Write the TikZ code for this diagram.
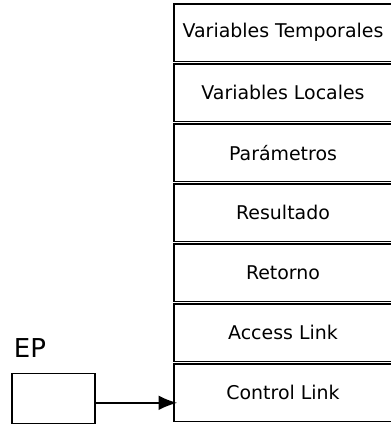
\documentclass[tikz,border=0pt]{standalone}
\usepackage{fontspec}
\setmainfont{DejaVu Sans}
\usetikzlibrary{arrows.meta,positioning}
\begin{document}
\begin{tikzpicture}[x=0.75pt,y=-0.75pt]
\tikzset{celda/.style={draw,line width=1.2pt,minimum width=163.5pt,minimum height=43.1pt,inner sep=0pt,font=\fontsize{14.2}{17}\selectfont},
caja/.style={draw,line width=1.2pt,minimum width=62.25pt,minimum height=37.5pt,inner sep=0pt}}
\useasboundingbox (0,0) rectangle (390,424);
\draw (283,32.75) node[celda] (vt) {Variables Temporales};
\draw (283,92.75) node[celda] (vl) {Variables Locales};
\draw (283,152.75) node[celda] (par) {Parámetros};
\draw (283,212.75) node[celda] (res) {Resultado};
\draw (283,272.75) node[celda] (ret) {Retorno};
\draw (283,332.75) node[celda] (al) {Access Link};
\draw (283,392.75) node[celda] (cl) {Control Link};
\draw (30,348) node[font=\fontsize{19.5}{22}\selectfont] (eplab) {EP};
\draw (53.5,398.3) node[caja] (ep) {};
\draw[line width=1.2pt,shorten >=-3pt,-{Latex[length=14pt,width=11pt]}] ([yshift=-3.4pt]ep.east) -- ([yshift=-3.4pt]ep.east -| cl.west);
\end{tikzpicture}
\end{document}
